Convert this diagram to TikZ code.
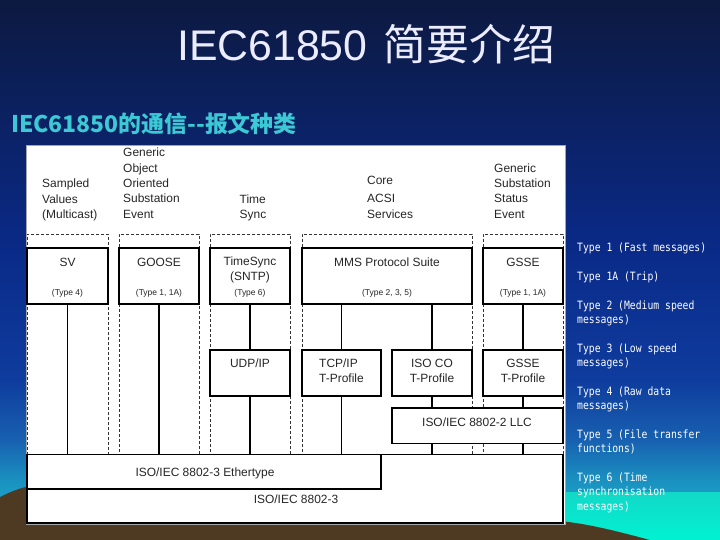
\documentclass[tikz,border=0pt]{standalone}
\usepackage{fontspec}
\setmainfont{Liberation Sans}
\newfontfamily\cjkfont{Noto Sans CJK SC}
\newfontfamily\tipofont[FakeStretch=0.85]{DejaVu Sans Mono}
\definecolor{fondoA}{HTML}{0C1940}
\definecolor{fondoB}{HTML}{0A2A88}
\definecolor{fondoC}{HTML}{0E3C9E}
\definecolor{fondoD}{HTML}{1860B0}
\definecolor{fondoE}{HTML}{1A90C0}
\definecolor{fondoF}{HTML}{18C0D0}
\definecolor{turqA}{HTML}{12D8C8}
\definecolor{turqB}{HTML}{00F2D2}
\definecolor{marron}{HTML}{4E3A22}
\definecolor{tituloc}{HTML}{ECECFF}
\definecolor{subtc}{HTML}{3CC8D4}
\pgfdeclareverticalshading{fondo}{100bp}{color(0bp)=(fondoF); color(25bp)=(fondoF); color(30.6bp)=(fondoE); color(34.3bp)=(fondoD); color(39.8bp)=(fondoC); color(51.9bp)=(fondoB); color(75bp)=(fondoA); color(100bp)=(fondoA)}

\begin{document}
\begin{tikzpicture}[x=1bp, y=-1bp,
  caja/.style={draw, line width=1.3bp, fill=white, inner sep=0pt},
  columna/.style={draw=black!80, dash pattern=on 3bp off 2bp, line width=0.9bp, inner sep=0pt},
  enlace/.style={line width=1.2bp},
  rotulo/.style={font=\fontsize{12}{15.5}\selectfont, text=black!85, inner sep=0pt, align=center},
  tipo/.style={font=\fontsize{8.5}{10}\selectfont, text=black!85, inner sep=0pt},
  cabecera/.style={rotulo, anchor=north west, align=left},
  nota/.style={font=\tipofont\fontsize{11.5}{14.5}\selectfont, text=white, anchor=north west, align=left, inner sep=0pt}]
  \useasboundingbox (0,0) rectangle (720,540);

  % Fondo
  \shade[shading=fondo] (0,0) rectangle (720,540);
  \shade[top color=turqA, bottom color=turqB] (480,492) rectangle (720,540);
  \fill[marron] (0,497) .. controls (10,492) and (20,488) .. (30,486) -- (30,521) -- (560,521)
    .. controls (590,524) and (620,532) .. (650,540) -- (0,540) -- cycle;

  % Titulos
  \node[font=\fontsize{43}{50}\selectfont, text=tituloc, anchor=base, inner sep=0pt] (titulo) at (366,61)
    {IEC61850\hspace{0.37em}{\cjkfont 简要介绍}};
  \node[font=\cjkfont\bfseries\fontsize{23}{28}\selectfont, text=subtc, anchor=base west, inner sep=0pt] (subtitulo) at (11,132.5)
    {IEC61850的通信-{}-报文种类};

  % Lamina
  \draw[fill=white, draw=gray!70, line width=0.8bp] (26,145) rectangle (565,524);

  % Columnas
  \node[columna, minimum width=81bp, minimum height=220bp] (colsv) at (67.5,344) {};
  \node[columna, minimum width=80bp, minimum height=220bp] (colgoose) at (159,344) {};
  \node[columna, minimum width=80bp, minimum height=220bp] (colts) at (250,344) {};
  \node[columna, minimum width=170bp, minimum height=220bp] (colmms) at (387,344) {};
  \node[columna, minimum width=80bp, minimum height=220bp] (colgsse) at (523,344) {};

  % Cajas
  \node[caja, minimum width=81bp, minimum height=56bp] (sv) at (67.5,276) {};
  \node[caja, minimum width=80bp, minimum height=56bp] (goose) at (159,276) {};
  \node[caja, minimum width=80bp, minimum height=56bp] (ts) at (250,276) {};
  \node[caja, minimum width=170bp, minimum height=56bp] (mms) at (387,276) {};
  \node[caja, minimum width=80bp, minimum height=56bp] (gsse) at (523,276) {};
  \node[caja, minimum width=80bp, minimum height=46bp] (udp) at (250,373) {};
  \node[caja, minimum width=79bp, minimum height=46bp] (tcp) at (341.5,373) {};
  \node[caja, minimum width=80bp, minimum height=46bp] (isoco) at (432,373) {};
  \node[caja, minimum width=80bp, minimum height=46bp] (gsset) at (523,373) {};
  \node[caja, minimum width=171bp, minimum height=35.5bp] (llc) at (477.5,425.75) {};
  \node[caja, minimum width=536bp, minimum height=68.5bp] (red) at (295,488.75) {};
  \node[caja, minimum width=354bp, minimum height=34.5bp] (eth) at (204,471.75) {};

  % Enlaces
  \draw[enlace] (sv.south) -- (sv.south |- eth.north);
  \draw[enlace] (goose.south) -- (goose.south |- eth.north);
  \draw[enlace] (ts.south) -- (udp.north);
  \draw[enlace] (udp.south) -- (udp.south |- eth.north);
  \draw[enlace] (mms.south -| tcp.north) -- (tcp.north);
  \draw[enlace] (mms.south -| isoco.north) -- (isoco.north);
  \draw[enlace] (tcp.south) -- (tcp.south |- eth.north);
  \draw[enlace] (isoco.south) -- (isoco.south |- llc.north);
  \draw[enlace] (isoco.south |- llc.south) -- (isoco.south |- red.north);
  \draw[enlace] (gsse.south) -- (gsset.north);
  \draw[enlace] (gsset.south) -- (gsset.south |- llc.north);
  \draw[enlace] (gsset.south |- llc.south) -- (gsset.south |- red.north);

  % Rotulos de las cajas
  \node[rotulo] (svt) at (67.5,262) {SV};
  \node[tipo] (svn) at (67.5,293) {(Type 4)};
  \node[rotulo] (gooset) at (159,262) {GOOSE};
  \node[tipo] (goosen) at (159,293) {(Type 1, 1A)};
  \node[rotulo] (tst) at (250,270) {TimeSync\\(SNTP)};
  \node[tipo] (tsn) at (250,293) {(Type 6)};
  \node[rotulo] (mmst) at (387,262) {MMS Protocol Suite};
  \node[tipo] (mmsn) at (387,293) {(Type 2, 3, 5)};
  \node[rotulo] (gsset1) at (523,262) {GSSE};
  \node[tipo] (gssen) at (523,293) {(Type 1, 1A)};
  \node[rotulo] (udpt) at (250,363) {UDP/IP};
  \node[rotulo, align=left] (tcpt) at (341.5,371) {TCP/IP\\T-Profile};
  \node[rotulo] (isocot) at (432,371) {ISO CO\\T-Profile};
  \node[rotulo] (gsset2) at (523,371) {GSSE\\T-Profile};
  \node[rotulo] (llct) at (477,422) {ISO/IEC 8802-2 LLC};
  \node[rotulo] (etht) at (205,473) {ISO/IEC 8802-3 Ethertype};
  \node[rotulo] (redt) at (296,499) {ISO/IEC 8802-3};

  % Cabeceras
  \node[cabecera] (hsv) at (42,178.7) {Sampled\\Values\\(Multicast)};
  \node[cabecera] (hgoose) at (123,147.7) {Generic\\Object\\Oriented\\Substation\\Event};
  \node[cabecera] (hts) at (239.5,194.2) {Time\\Sync};
  \node[cabecera] (hmms) at (367,175.7) {Core\\[3.2bp]ACSI\\Services};
  \node[cabecera] (hgsse) at (494,163.2) {Generic\\Substation\\Status\\Event};

  % Tipos de mensaje
  \node[nota] (t1) at (577,242.5) {Type 1 (Fast messages)};
  \node[nota] (t1a) at (577,271.5) {Type 1A (Trip)};
  \node[nota] (t2) at (577,300.5) {Type 2 (Medium speed\\messages)};
  \node[nota] (t3) at (577,343.5) {Type 3 (Low speed\\messages)};
  \node[nota] (t4) at (577,386.5) {Type 4 (Raw data\\messages)};
  \node[nota] (t5) at (577,429.5) {Type 5 (File transfer\\functions)};
  \node[nota] (t6) at (577,472.5) {Type 6 (Time\\synchronisation\\messages)};
\end{tikzpicture}
\end{document}
